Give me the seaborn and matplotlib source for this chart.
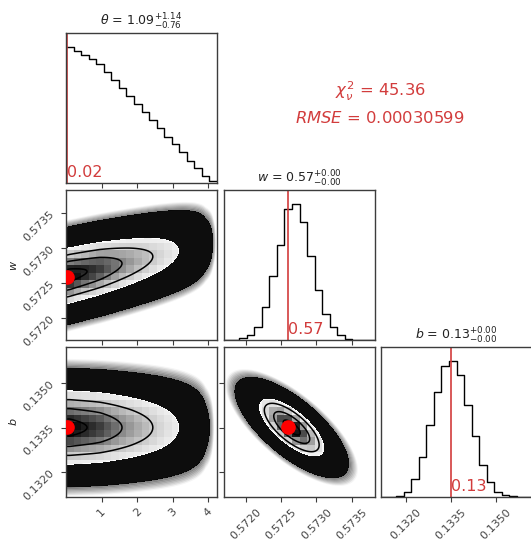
import numpy as np
import pandas as pd
import matplotlib
matplotlib.use("Agg")
import matplotlib.pyplot as plt
import seaborn as sns
from matplotlib.colors import LinearSegmentedColormap

# ---------------- data ----------------
theta_range = [0.0, 4.25]
w_range = [0.57169, 0.57383]
b_range = [0.13117, 0.13620]

theta_counts = [1.000, 0.969, 0.939, 0.908, 0.872, 0.814, 0.755, 0.695, 0.637, 0.576,
                0.518, 0.460, 0.402, 0.341, 0.283, 0.225, 0.165, 0.107, 0.048, 0.012]
w_counts = [0.000, 0.003, 0.015, 0.040, 0.095, 0.240, 0.470, 0.700, 0.962, 1.000,
            0.863, 0.614, 0.366, 0.192, 0.092, 0.037, 0.010, 0.003, 0.000, 0.000]
b_counts = [0.000, 0.000, 0.007, 0.037, 0.130, 0.296, 0.531, 0.770, 0.963, 1.000,
            0.895, 0.673, 0.445, 0.235, 0.110, 0.040, 0.015, 0.005, 0.000, 0.000]

best_fit = [0.02, 0.57259, 0.13351]
best_fit_labels = ["0.02", "0.57", "0.13"]
titles = [r"$\theta$ = $1.09_{-0.76}^{+1.14}$",
          r"$w$ = $0.57_{-0.00}^{+0.00}$",
          r"$b$ = $0.13_{-0.00}^{+0.00}$"]
axis_labels = [r"$\theta$", r"$w$", r"$b$"]

theta_ticks = [1, 2, 3, 4]
theta_tick_labels = ["1", "2", "3", "4"]
w_ticks = [0.5720, 0.5725, 0.5730, 0.5735]
w_tick_labels = ["0.5720", "0.5725", "0.5730", "0.5735"]
b_ticks = [0.1320, 0.1335, 0.1350]
b_tick_labels = ["0.1320", "0.1335", "0.1350"]

# 2-D posterior shapes
w_given_theta = [0.57260, 0.000115]      # w centre at theta=0, shift per unit theta
w_given_theta_sigma = 0.00024
b_given_theta = [0.13350, 0.00075]       # centre, sigma
w_b_centre = [0.57265, 0.13350]
w_b_sigma = [0.000268, 0.00056]
w_b_corr = -0.72

# density thresholds (relative to peak): cloud fade, white fill, contour lines
theta_w_levels = dict(cloud=[0.004, 0.015], white=0.26, lines=[0.46, 0.70, 0.93])
theta_b_levels = dict(cloud=[0.009, 0.03], white=0.26, lines=[0.46, 0.70, 0.93])
w_b_levels = dict(cloud=[0.0022, 0.011], white=0.236, lines=[0.35, 0.636, 0.904])

stats_lines = [r"$\chi^2_\nu$ = 45.36", r"$RMSE$ = 0.00030599"]

# ---------------- style ----------------
sns.set_style("ticks")
plt.rcParams["font.family"] = ["DejaVu Sans"]
RED = "#d23c3c"
FRAME = "#3c3c3c"

fig = plt.figure(figsize=(5.31, 5.44), dpi=100)
W, H = 531.0, 544.0
col_left = [66, 224, 381]
row_top = [33, 190, 347]
pw, ph = 151, 150


def make_ax(r, c):
    return fig.add_axes([col_left[c] / W, (H - row_top[r] - ph) / H, pw / W, ph / H])


def edges_of(rng, n=20):
    return np.linspace(rng[0], rng[1], n + 1)


def centres_of(rng, n=20):
    e = edges_of(rng, n)
    return 0.5 * (e[1:] + e[:-1])


def theta_profile(t):
    c = np.asarray(theta_counts, float)
    c = c / c.max()
    xc = centres_of(theta_range)
    return np.interp(t, np.r_[theta_range[0], xc, theta_range[1]], np.r_[c[0], c, 0.0])


def dens_theta_w(t, w):
    mu = w_given_theta[0] + w_given_theta[1] * t
    return theta_profile(t) * np.exp(-0.5 * ((w - mu) / w_given_theta_sigma) ** 2)


def dens_theta_b(t, b):
    return theta_profile(t) * np.exp(-0.5 * ((b - b_given_theta[0]) / b_given_theta[1]) ** 2)


def dens_w_b(w, b):
    x = (w - w_b_centre[0]) / w_b_sigma[0]
    y = (b - w_b_centre[1]) / w_b_sigma[1]
    r = w_b_corr
    return np.exp(-0.5 * (x * x - 2 * r * x * y + y * y) / (1 - r * r))


density_cmap = LinearSegmentedColormap.from_list("density_cmap", [(0, 0, 0, 1), (1, 1, 1, 0)])


def style_ax(ax):
    for s in ax.spines.values():
        s.set_color(FRAME)
        s.set_linewidth(1.0)
    ax.tick_params(direction="out", length=3.5, width=0.8, color=FRAME,
                   labelsize=8, labelcolor="#444444")


def draw_2d(ax, xr, yr, func, lv):
    xf = np.linspace(xr[0], xr[1], 260)
    yf = np.linspace(yr[0], yr[1], 260)
    XF, YF = np.meshgrid(xf, yf)
    D = func(XF, YF)
    D = D / D.max()
    top = 2.0
    # point cloud: a fading black halo, solid black core
    fade = np.geomspace(lv["cloud"][0], lv["cloud"][1], 9)
    alphas = np.linspace(0.04, 0.55, len(fade) - 1)
    for lo, hi, a in zip(fade[:-1], fade[1:], alphas):
        ax.contourf(XF, YF, D, levels=[lo, hi], colors=["k"], alpha=a, antialiased=True)
    ax.contourf(XF, YF, D, levels=[lv["cloud"][1], top], colors=["k"], alpha=0.95)
    cs_white = ax.contourf(XF, YF, D, levels=[lv["white"], top], colors=["white"])
    # blocky 2-D histogram shading inside the white region
    xe, ye = edges_of(xr), edges_of(yr)
    XC, YC = np.meshgrid(centres_of(xr), centres_of(yr))
    Hc = func(XC, YC)
    Hc = Hc / Hc.max()
    mesh = ax.pcolormesh(xe, ye, 1.0 - Hc, cmap=density_cmap, vmin=0, vmax=1, shading="flat")
    paths = cs_white.get_paths()
    if len(paths):
        mesh.set_clip_path(paths[0], transform=ax.transData)
    ax.contour(XF, YF, D, levels=lv["lines"], colors="k", linewidths=1.1)
    ax.set_xlim(xr)
    ax.set_ylim(yr)


ranges = [theta_range, w_range, b_range]
counts = [theta_counts, w_counts, b_counts]
ticks = [theta_ticks, w_ticks, b_ticks]
tick_labels = [theta_tick_labels, w_tick_labels, b_tick_labels]

# ---------------- diagonal histograms ----------------
for i in range(3):
    ax = make_ax(i, i)
    df = pd.DataFrame({"value": centres_of(ranges[i]), "count": counts[i]})
    sns.histplot(data=df, x="value", weights="count", bins=20, binrange=tuple(ranges[i]),
                 element="step", fill=False, color="k", linewidth=1.0, ax=ax)
    ax.set_xlim(ranges[i])
    ax.set_ylim(0, 1.1 * max(counts[i]))
    ax.set_yticks([])
    ax.set_ylabel("")
    ax.set_xlabel("")
    ax.set_xticks(ticks[i])
    if i == 2:
        ax.set_xticklabels(tick_labels[i], rotation=45)
    else:
        ax.set_xticklabels([])
    ax.axvline(best_fit[i], color=RED, lw=1.2)
    ax.text(best_fit[i], 0.02 * 1.1 * max(counts[i]), best_fit_labels[i], color=RED,
            fontsize=11.5, ha="left", va="bottom")
    ax.set_title(titles[i], fontsize=9, pad=5, color="#222222")
    style_ax(ax)

# ---------------- 2-D panels ----------------
ax10 = make_ax(1, 0)
draw_2d(ax10, theta_range, w_range, dens_theta_w, theta_w_levels)
ax10.plot(best_fit[0], best_fit[1], "o", color="red", ms=9.5, zorder=5)
ax10.set_xticks(theta_ticks)
ax10.set_xticklabels([])
ax10.set_yticks(w_ticks)
ax10.set_yticklabels(w_tick_labels, rotation=45)
ax10.set_ylabel(axis_labels[1], fontsize=8)
ax10.yaxis.set_label_coords(-0.31, 0.5)
style_ax(ax10)

ax20 = make_ax(2, 0)
draw_2d(ax20, theta_range, b_range, dens_theta_b, theta_b_levels)
ax20.plot(best_fit[0], best_fit[2], "o", color="red", ms=9.5, zorder=5)
ax20.set_xticks(theta_ticks)
ax20.set_xticklabels(theta_tick_labels, rotation=45)
ax20.set_yticks(b_ticks)
ax20.set_yticklabels(b_tick_labels, rotation=45)
ax20.set_ylabel(axis_labels[2], fontsize=8)
ax20.yaxis.set_label_coords(-0.31, 0.5)
style_ax(ax20)

ax21 = make_ax(2, 1)
draw_2d(ax21, w_range, b_range, dens_w_b, w_b_levels)
ax21.plot(best_fit[1], best_fit[2], "o", color="red", ms=9.5, zorder=5)
ax21.set_xticks(w_ticks)
ax21.set_xticklabels(w_tick_labels, rotation=45)
ax21.set_yticks(b_ticks)
ax21.set_yticklabels([])
style_ax(ax21)

# ---------------- statistics text ----------------
fig.text(380 / W, 1 - 91 / H, stats_lines[0], color=RED, fontsize=11.8, ha="center", va="center")
fig.text(380 / W, 1 - 118 / H, stats_lines[1], color=RED, fontsize=11.8, ha="center", va="center")

fig.savefig("out.png", dpi=100)
